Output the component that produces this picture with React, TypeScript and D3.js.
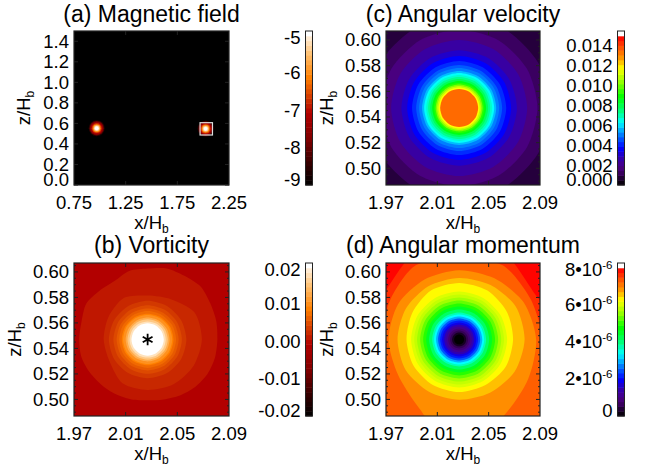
import React from 'react';
import * as d3 from 'd3';

// colour tables
const rainbowStops = [0, 0.03, 0.08, 0.12, 0.18, 0.24, 0.32, 0.41, 0.48, 0.575, 0.68, 0.76, 0.82, 0.88, 0.965, 1];
const rainbowColors = ['#000000', '#150020', '#3a0060', '#4b0082', '#3000b0', '#0000ff', '#0070ff', '#00ffff', '#00ff80', '#00ff00', '#a0ff00', '#ffff00', '#ffa000', '#ff6000', '#ff0000', '#ff0000'];
const hotStops = [0, 0.13, 0.3, 0.47, 0.54, 0.7, 0.85, 1];
const hotColors = ['#000000', '#300000', '#800000', '#b20000', '#c82800', '#ff8000', '#ffc070', '#ffffff'];

// axes
const wideXTicks = [0.75, 1.25, 1.75, 2.25];
const wideZTicks = [0, 0.2, 0.4, 0.6, 0.8, 1.0, 1.2, 1.4];
const zoomXTicks = [1.97, 2.01, 2.05, 2.09];
const zoomZTicks = [0.5, 0.52, 0.54, 0.56, 0.58, 0.6];
const zoomZMinor = [0.49, 0.495, 0.505, 0.51, 0.515, 0.525, 0.53, 0.535, 0.545, 0.55, 0.555, 0.565, 0.57, 0.575, 0.585, 0.59, 0.595, 0.605];

// (a) log field, two flux tubes
const tubeX = [0.97, 2.024];
const tubeZ = [0.553, 0.548];
const fieldRadii = [0.078, 0.07, 0.062, 0.054, 0.047, 0.039, 0.033, 0.027, 0.021, 0.016];
const fieldValues = [-8.6, -8.0, -7.5, -7.1, -6.7, -6.3, -5.9, -5.5, -5.2, -5.0];
const fieldTicks = [-9, -8, -7, -6, -5];

// (b) vorticity contours, radii in 1e-3 H_b, evenly spaced in angle where they are not round
const vortBackground = -0.0012;
const vortRadii = [
  [54, 55, 56, 58, 57, 57, 55, 55, 52, 53, 55, 53, 53, 53, 51.5, 50, 49, 48, 47, 48, 50, 52, 53.5, 54],
  [42, 42, 36, 34, 37, 35, 34, 34, 39, 39, 40, 41],
  [30], [26.5], [24], [22], [20], [19], [17], [15.6], [14], [12.5],
];
const vortValues = [0.0004, 0.0016, 0.0028, 0.004, 0.0052, 0.0064, 0.008, 0.0096, 0.012, 0.0148, 0.0172, 0.02];
const vortTicks = [-0.02, -0.01, 0, 0.01, 0.02];

// (c) angular velocity
const omegaBackground = 0.0008;
const omegaRadii = [71, 61, 53, 45, 40.5, 36.7, 33.5, 31.2, 28.9, 27.3, 25.7, 24.2, 22.6, 21, 19.5, 18.3, 17.2, 16, 14.8].map((r) => [r]);
const omegaValues = [0.00124, 0.0018, 0.0025, 0.0031, 0.0037, 0.0042, 0.0047, 0.0051, 0.0057, 0.0064, 0.0068, 0.0073, 0.0079, 0.0087, 0.0093, 0.0102, 0.011, 0.0118, 0.0135];
const omegaTicks = [0, 0.002, 0.004, 0.006, 0.008, 0.01, 0.012, 0.014];

// (d) angular momentum, in 1e-6
const momentumBackground = 7.7;
const momentumRadii = [
  [86, 69, 75, 86, 75, 69, 86, 94, 94, 94, 94, 94],
  [66, 64, 67, 61, 67, 62, 61, 86, 90, 90, 90, 86],
  [60, 58, 55, 54, 54, 55, 55, 55, 62, 90, 69, 62],
  [51, 51, 49, 48, 48, 48, 48, 48, 47, 47, 48, 50],
  [42, 43, 44, 44, 44, 42, 41, 41, 41, 41, 41, 42],
  [37.4], [35], [32.8], [30.4], [28], [25.7], [23.4], [21], [19.5], [18], [16.4], [14.8], [13.3], [11.7], [10.1], [8.6], [7], [5.5], [3.9],
];
const momentumValues = [7.4, 7.05, 6.7, 6.4, 6.1, 5.84, 5.68, 5.44, 5.12, 4.8, 4.4, 4, 3.6, 3.28, 2.88, 2.4, 2.08, 1.76, 1.44, 1.12, 0.8, 0.56, 0.24, 0];
const momentumTicks = [0, 2, 4, 6, 8];

const vortexX = 2.027;
const vortexZ = 0.547;

const FONT = '"Liberation Sans", Arial, sans-serif';
const INK = '#222';
const rainbow = d3.scaleLinear<string>().domain(rainbowStops).range(rainbowColors);
const hot = d3.scaleLinear<string>().domain(hotStops).range(hotColors);

const contourLine = (n: number) => d3.lineRadial<number>()
  .angle((_, i) => Math.PI / 2 - (i * 2 * Math.PI) / n)
  .radius((r) => r)
  .curve(d3.curveCardinalClosed.tension(0.2));

const fmt2 = d3.format('.2f');
const fmt1 = d3.format('.1f');

function Frame({ box, xTicks, zTicks, zMinor, xDomain, zDomain, fmtZ, title, titleY, labelX, children }: any) {
  const x = d3.scaleLinear().domain(xDomain).range([box.x0, box.x1]);
  const z = d3.scaleLinear().domain(zDomain).range([box.y1, box.y0]);
  const cx = (box.x0 + box.x1) / 2;
  const cy = (box.y0 + box.y1) / 2;
  return (
    <g fontFamily={FONT} fill="#000">
      <g clipPath={`url(#clip-${box.id})`}>{children(x, z)}</g>
      <rect x={box.x0} y={box.y0} width={box.x1 - box.x0} height={box.y1 - box.y0} fill="none" stroke={INK} strokeWidth={1.2} />
      {xTicks.slice(1, -1).map((t: number) => (
        <path key={t} d={`M${x(t)},${box.y1}v-4M${x(t)},${box.y0}v4`} stroke={INK} />
      ))}
      {zTicks.map((t: number) => (
        <path key={t} d={`M${box.x0},${z(t)}h4M${box.x1},${z(t)}h-4`} stroke={INK} />
      ))}
      {(zMinor || []).map((t: number) => (
        <path key={t} d={`M${box.x0},${z(t)}h2M${box.x1},${z(t)}h-2`} stroke={INK} />
      ))}
      {xTicks.map((t: number) => (
        <text key={t} x={x(t)} y={box.y1 + 24} fontSize={18.5} textAnchor="middle">{fmt2(t)}</text>
      ))}
      {zTicks.map((t: number) => (
        <text key={t} x={box.x0 - 5} y={Math.min(z(t), box.y1 - 6) + 6.5} fontSize={18.5} textAnchor="end">{fmtZ(t)}</text>
      ))}
      <text x={cx} y={box.y1 + 44} fontSize={18.5} textAnchor="middle">x/H<tspan dy={4} fontSize={12}>b</tspan></text>
      <text transform={`translate(${labelX},${cy}) rotate(-90)`} fontSize={18.5} textAnchor="middle">z/H<tspan dy={4} fontSize={12}>b</tspan></text>
      <text x={cx} y={titleY} fontSize={23} textAnchor="middle">{title}</text>
    </g>
  );
}

// the top level of each bar is the white overflow colour, so the labelled range stops just under the top
function ColorBar({ box, domain, scale, ticks, format, barX }: any) {
  const y = d3.scaleLinear().domain(domain).range([box.y1, box.y0]);
  const levels = d3.range(32);
  const h = (box.y1 - box.y0) / 32;
  return (
    <g fontFamily={FONT} fill="#000">
      {levels.map((l) => (
        <rect key={l} x={barX} y={box.y1 - (l + 1) * h} width={7} height={h + 0.5} fill={l === 31 ? '#fff' : scale((l + 0.5) / 32)} />
      ))}
      <rect x={barX} y={box.y0} width={7} height={box.y1 - box.y0} fill="none" stroke={INK} strokeWidth={1} />
      {ticks.map((t: number) => {
        const pos = Math.max(box.y0 + 6, Math.min(y(t), box.y1 - 6));
        return (
          <text key={t} x={barX - 5} y={pos + 6.5} fontSize={18.5} textAnchor="end">{format(t)}</text>
        );
      })}
    </g>
  );
}

function Contours({ x, z, domain, scale, background, radii, values, box }: any) {
  const unit = x(vortexX + 0.001) - x(vortexX);
  const toColor = d3.scaleLinear().domain(domain).range([0, 1]);
  return (
    <g>
      <rect x={box.x0} y={box.y0} width={box.x1 - box.x0} height={box.y1 - box.y0} fill={scale(toColor(background))} />
      <g transform={`translate(${x(vortexX)},${z(vortexZ)})`}>
        {radii.map((r: number[], i: number) => {
          const ring = r.length === 1 ? d3.range(12).map(() => r[0]) : r;
          const d = contourLine(ring.length)(ring.map((v) => v * unit)) as string;
          return <path key={i} d={d} fill={scale(toColor(values[i]))} />;
        })}
      </g>
    </g>
  );
}

const boxA = { id: 'a', x0: 74, x1: 229, y0: 31, y1: 185 };
const boxB = { id: 'b', x0: 74, x1: 229, y0: 263, y1: 416 };
const boxC = { id: 'c', x0: 386, x1: 540, y0: 31, y1: 185 };
const boxD = { id: 'd', x0: 386, x1: 540, y0: 263, y1: 416 };

export default function App() {
  const fieldColor = d3.scaleLinear().domain([-9, -5]).range([0, 1]);
  const sci = (t: number) => (t === 0 ? '0' : <>{t}•10<tspan dy={-7} fontSize={11.5}>-6</tspan></>);
  return (
    <svg width={654} height={471} style={{ position: 'absolute', left: 0, top: 0, background: '#fff' }}>
      <defs>
        {[boxA, boxB, boxC, boxD].map((b) => (
          <clipPath key={b.id} id={`clip-${b.id}`}>
            <rect x={b.x0} y={b.y0} width={b.x1 - b.x0} height={b.y1 - b.y0} />
          </clipPath>
        ))}
        <filter id="soft"><feGaussianBlur stdDeviation={0.5} /></filter>
      </defs>

      <Frame box={boxA} xDomain={[0.75, 2.25]} zDomain={[0, 1.5]} xTicks={wideXTicks} zTicks={wideZTicks} fmtZ={fmt1} title="(a) Magnetic field" titleY={22} labelX={30}>
        {(x: any, z: any) => (
          <g>
            <rect x={boxA.x0} y={boxA.y0} width={155} height={154} fill="#000" />
            <g filter="url(#soft)">
              {tubeX.map((tx, k) => fieldRadii.map((r, i) => (
                <circle key={`${k}-${i}`} cx={x(tx)} cy={z(tubeZ[k])} r={x(0.75 + r) - x(0.75)} fill={hot(fieldColor(fieldValues[i]))} />
              )))}
            </g>
            <rect x={x(1.97)} y={z(0.607)} width={x(2.09) - x(1.97)} height={z(0.487) - z(0.607)} fill="none" stroke="#ddd" strokeWidth={1.2} />
          </g>
        )}
      </Frame>
      <ColorBar box={boxA} domain={[-9, -4.89]} scale={hot} ticks={fieldTicks} format={(t: number) => String(t)} barX={305.5} />

      <Frame box={boxB} xDomain={[1.97, 2.09]} zDomain={[0.487, 0.607]} xTicks={zoomXTicks} zTicks={zoomZTicks} zMinor={zoomZMinor} fmtZ={fmt2} title="(b) Vorticity" titleY={253} labelX={21}>
        {(x: any, z: any) => (
          <g>
            <Contours x={x} z={z} box={boxB} domain={[-0.02, 0.02]} scale={hot} background={vortBackground} radii={vortRadii} values={vortValues} />
            <path transform={`translate(${x(vortexX)},${z(vortexZ)})`} d={d3.symbol(d3.symbolAsterisk, 90)() as string} fill="none" stroke="#000" strokeWidth={1.8} />
          </g>
        )}
      </Frame>
      <ColorBar box={boxB} domain={[-0.02, 0.0208]} scale={hot} ticks={vortTicks} format={(t: number) => d3.format('.2f')(t).replace('−', '-')} barX={305.5} />

      <Frame box={boxC} xDomain={[1.97, 2.09]} zDomain={[0.487, 0.607]} xTicks={zoomXTicks} zTicks={zoomZTicks} zMinor={zoomZMinor} fmtZ={fmt2} title="(c) Angular velocity" titleY={22} labelX={333}>
        {(x: any, z: any) => (
          <Contours x={x} z={z} box={boxC} domain={[0, 0.0155]} scale={rainbow} background={omegaBackground} radii={omegaRadii} values={omegaValues} />
        )}
      </Frame>
      <ColorBar box={boxC} domain={[0, 0.0155]} scale={rainbow} ticks={omegaTicks} format={(t: number) => d3.format('.3f')(t)} barX={617.5} />

      <Frame box={boxD} xDomain={[1.97, 2.09]} zDomain={[0.487, 0.607]} xTicks={zoomXTicks} zTicks={zoomZTicks} zMinor={zoomZMinor} fmtZ={fmt2} title="(d) Angular momentum" titleY={253} labelX={333}>
        {(x: any, z: any) => (
          <Contours x={x} z={z} box={boxD} domain={[0, 8]} scale={rainbow} background={momentumBackground} radii={momentumRadii} values={momentumValues} />
        )}
      </Frame>
      <ColorBar box={boxD} domain={[0, 8.2]} scale={rainbow} ticks={momentumTicks} format={sci} barX={617.5} />
    </svg>
  );
}
